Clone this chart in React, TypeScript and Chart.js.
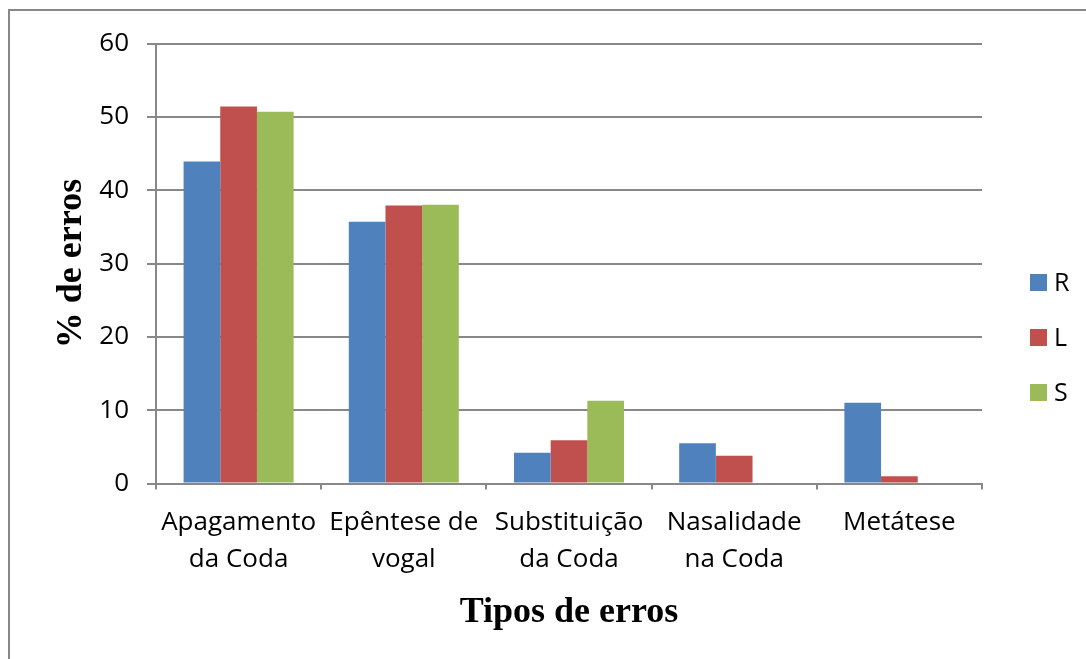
import React, { useEffect, useRef } from 'react';
import { Chart, registerables } from 'chart.js';

Chart.register(...registerables);

const categories: (string | string[])[] = [
  ['Apagamento', 'da Coda'],
  ['Epêntese de', 'vogal'],
  ['Substituição', 'da Coda'],
  ['Nasalidade', 'na Coda'],
  'Metátese',
];
const seriesNames = ['R', 'L', 'S'];
const seriesR = [43.9, 35.7, 4.2, 5.5, 11.0];
const seriesL = [51.4, 37.9, 5.9, 3.8, 1.0];
const seriesS = [50.7, 38.0, 11.3, 0, 0];
const seriesColors = ['#4F81BD', '#C0504D', '#9BBB59'];
const yTitle = '% de erros';
const xTitle = 'Tipos de erros';

const W = 1086;
const H = 659;
const SANS = "'Open Sans', 'Noto Sans', sans-serif";
const SERIF = "'Liberation Serif', 'DejaVu Serif', serif";

const legendPlugin = {
  id: 'customLegend',
  afterDraw(chart: any) {
    const ctx = chart.ctx;
    const datasets = chart.data.datasets;
    ctx.save();
    ctx.font = `25px ${SANS}`;
    ctx.textBaseline = 'middle';
    ctx.textAlign = 'left';
    datasets.forEach((ds: any, i: number) => {
      const cy = 282.5 + i * 55;
      ctx.fillStyle = ds.backgroundColor;
      ctx.fillRect(1030, cy - 8.5, 17, 17);
      ctx.fillStyle = '#000';
      ctx.fillText(ds.label, 1054, cy + 1);
    });
    ctx.restore();
  },
};

export default function App() {
  const ref = useRef<HTMLCanvasElement | null>(null);
  useEffect(() => {
    if (!ref.current) return;
    const values = [seriesR, seriesL, seriesS];
    const chart = new Chart(ref.current, {
      type: 'bar',
      data: {
        labels: categories as any,
        datasets: seriesNames.map((name, i) => ({
          label: name,
          data: values[i],
          backgroundColor: seriesColors[i],
          borderWidth: 0,
          categoryPercentage: 0.666,
          barPercentage: 1.0,
        })),
      },
      options: {
        animation: false,
        responsive: false,
        maintainAspectRatio: false,
        events: [],
        layout: { padding: { left: 0, right: 104, top: 43.5, bottom: 0 } },
        plugins: { legend: { display: false }, tooltip: { enabled: false } },
        scales: {
          x: {
            grid: {
              display: true,
              drawOnChartArea: false,
              drawTicks: true,
              tickLength: 6,
              color: '#888',
              lineWidth: 2,
              offset: true,
            },
            border: { display: true, color: '#888', width: 2 },
            ticks: {
              font: { family: SANS, size: 26, lineHeight: 1.42 },
              color: '#000',
              padding: 15,
              maxRotation: 0,
              autoSkip: false,
            },
            title: {
              display: true,
              text: xTitle,
              font: { family: SERIF, size: 36, weight: 'bold' },
              color: '#000',
              padding: { top: 0, bottom: 25 },
            },
            afterFit: (s: any) => {
              s.height = H - 483.5;
            },
          },
          y: {
            min: 0,
            max: 60,
            ticks: {
              stepSize: 10,
              font: { family: SANS, size: 26 },
              color: '#000',
              padding: 18,
            },
            grid: { color: '#888', lineWidth: 2, tickLength: 9 },
            border: { display: true, color: '#888', width: 2 },
            title: {
              display: true,
              text: yTitle,
              font: { family: SERIF, size: 36, weight: 'bold' },
              color: '#000',
              padding: { top: 50, bottom: 0 },
            },
            afterFit: (s: any) => {
              s.width = 156;
            },
          },
        },
      },
      plugins: [legendPlugin],
    });
    return () => chart.destroy();
  }, []);

  return (
    <div style={{ position: 'absolute', left: 0, top: 0, width: W, height: H, overflow: 'hidden', background: '#fff' }}>
      <div
        style={{
          position: 'absolute',
          left: 8,
          top: 9,
          width: W - 10,
          height: H - 11,
          borderTop: '2px solid #888',
          borderLeft: '2px solid #888',
        }}
      />
      <canvas ref={ref} width={W} height={H} style={{ position: 'absolute', left: 0, top: 0, display: 'block' }} />
    </div>
  );
}
